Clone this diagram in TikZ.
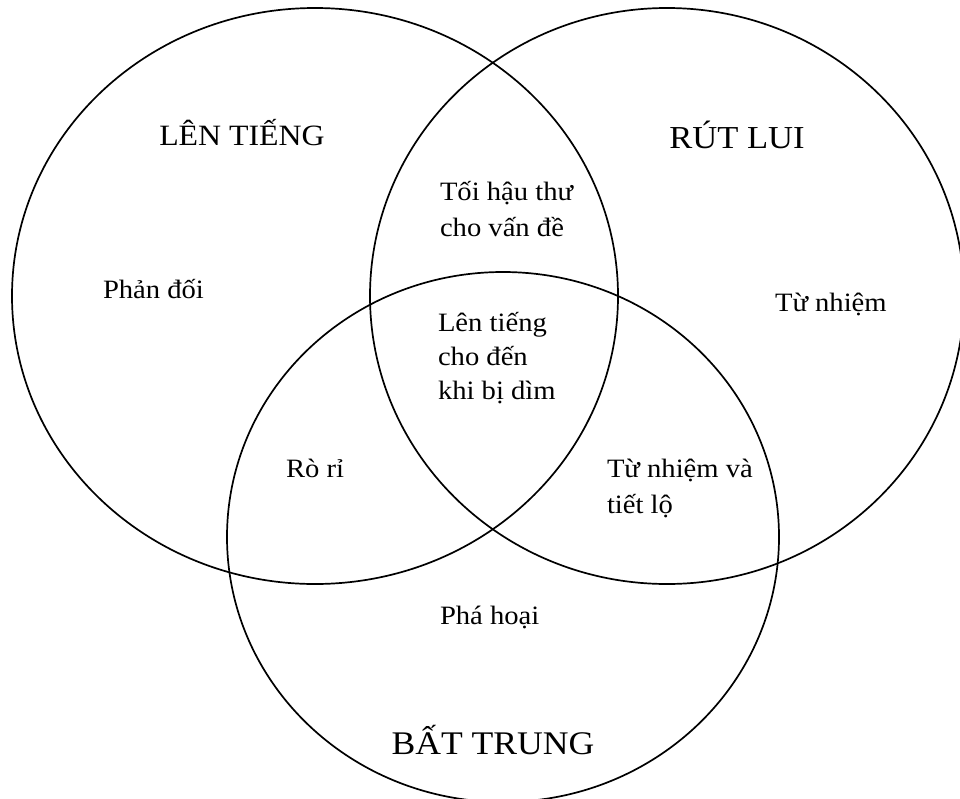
\documentclass[tikz,border=0pt]{standalone}
\usepackage{fontspec}
\setmainfont{Liberation Serif}[FakeStretch=1.08]
\begin{document}
\begin{tikzpicture}[x=1pt,y=-1pt,
  ring/.style={line width=1.7pt},
  lbl/.style={inner sep=0pt,outer sep=0pt,anchor=base west,font=\fontsize{26.5}{34}\selectfont},
  ttl/.style={inner sep=0pt,outer sep=0pt,anchor=base}]
\useasboundingbox (0,0) rectangle (960,798);
\clip (0,0) rectangle (960,798);
\fill[white] (0,0) rectangle (960,798);
\draw[ring] (315,296) ellipse [x radius=303pt, y radius=288pt];
\draw[ring] (667,296) ellipse [x radius=297pt, y radius=288pt];
\draw[ring] (503,537) ellipse [x radius=276pt, y radius=265pt];
\node[ttl,font=\fontsize{29.5}{34}\selectfont] (t1) at (242,145) {LÊN TIẾNG};
\node[ttl,font=\fontsize{32}{36}\selectfont] (t2) at (737,148) {RÚT LUI};
\node[ttl,font=\fontsize{33}{38}\selectfont] (t3) at (493,754) {BẤT TRUNG};
\node[lbl] (a) at (440,200) {\vtop{\baselineskip=36pt\hbox{Tối hậu thư}\hbox{cho vấn đề}}};
\node[lbl] (b) at (103,298) {Phản đối};
\node[lbl] (c) at (775,311) {Từ nhiệm};
\node[lbl] (d) at (438,331) {\vtop{\baselineskip=34pt\hbox{Lên tiếng}\hbox{cho đến}\hbox{khi bị dìm}}};
\node[lbl] (e) at (286,477) {Rò rỉ};
\node[lbl] (f) at (607,477) {\vtop{\baselineskip=36pt\hbox{Từ nhiệm và}\hbox{tiết lộ}}};
\node[lbl] (g) at (440,624) {Phá hoại};
\end{tikzpicture}
\end{document}
